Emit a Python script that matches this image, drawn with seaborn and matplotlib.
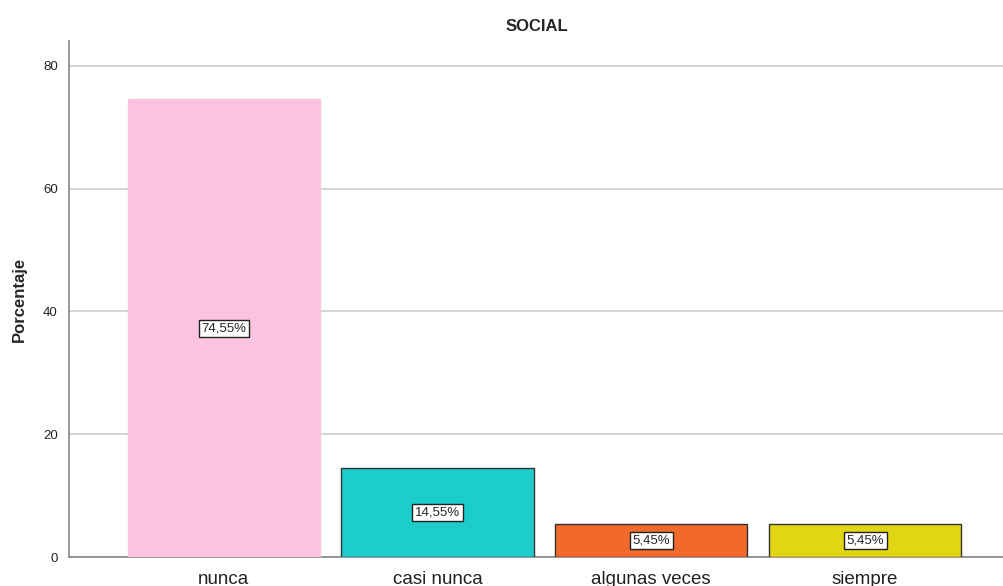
import matplotlib
matplotlib.use("Agg")
import matplotlib.pyplot as plt
import seaborn as sns
import pandas as pd

categories = ["nunca", "casi nunca", "algunas veces", "siempre"]
values = [74.55, 14.55, 5.45, 5.45]
labels = ["74,55%", "14,55%", "5,45%", "5,45%"]
colors = ["#FCC3E1", "#1DCDCC", "#F3692B", "#E2D614"]
edges = ["#FCC3E1", "#333333", "#333333", "#333333"]

sns.set_style("white")
plt.rcParams["font.family"] = ["Liberation Sans", "DejaVu Sans"]

df = pd.DataFrame({"cat": categories, "val": values})
fig = plt.figure(figsize=(10.04, 5.86), dpi=100)
ax = fig.add_axes([69/1004, 1-557/586, 1-69/1004, (557-41)/586])

sns.barplot(data=df, x="cat", y="val", hue="cat", palette=colors, legend=False,
            width=0.9, ax=ax, zorder=3, saturation=1)
for p, ec in zip(ax.patches, edges):
    p.set_edgecolor(ec)
    p.set_linewidth(1.0)

ax.set_ylim(0, 84.07)
ax.set_xlim(-0.724, 3.65)
ax.set_yticks([0, 20, 40, 60, 80])
ax.yaxis.grid(True, color="#cccccc", linewidth=1.2, zorder=0)
ax.set_axisbelow(True)
for s in ["top", "right"]:
    ax.spines[s].set_visible(False)
for s in ["left", "bottom"]:
    ax.spines[s].set_color("#888888")
    ax.spines[s].set_linewidth(1.2)
ax.tick_params(axis="y", labelsize=9.5, length=4, color="#888888", pad=4, colors="#222222")
ax.tick_params(axis="y", color="#888888")
ax.tick_params(axis="x", labelsize=13.5, length=0, pad=10, colors="#222222")
ax.set_xlabel("")
ax.set_ylabel("Porcentaje", fontsize=12, fontweight="bold", labelpad=12)
ax.set_title("SOCIAL", fontsize=12, fontweight="bold", pad=7)

for i, (v, lab) in enumerate(zip(values, labels)):
    ax.text(i, v/2, lab, ha="center", va="center", fontsize=9.5, zorder=5,
            bbox=dict(boxstyle="square,pad=0.2", fc="white", ec="#222222", lw=1))

fig.savefig("out.png", dpi=100)
